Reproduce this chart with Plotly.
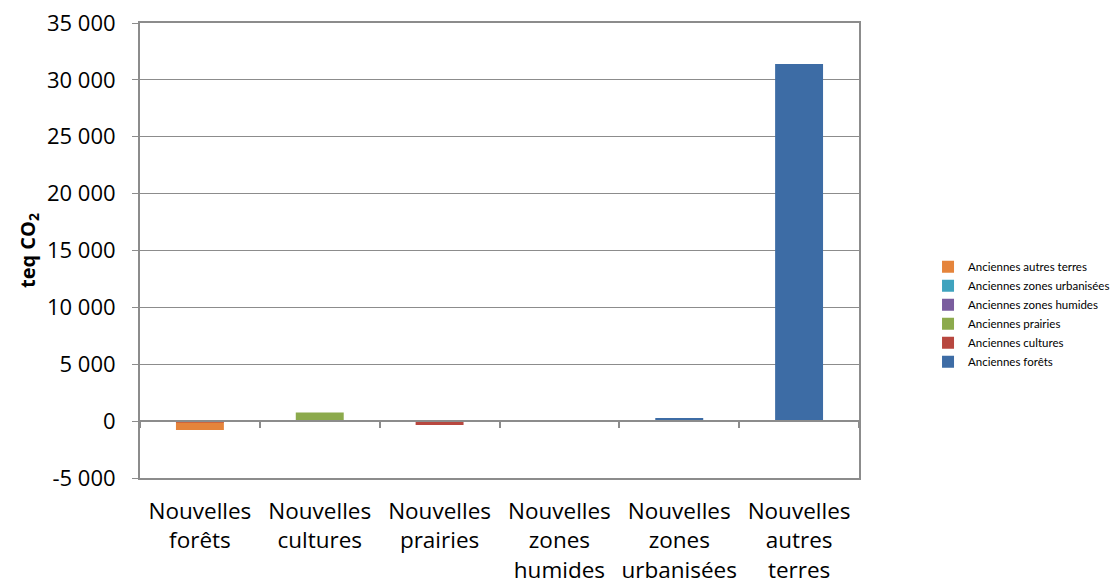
import plotly.graph_objects as go

categories = ["Nouvelles<br>forêts", "Nouvelles<br>cultures", "Nouvelles<br>prairies",
              "Nouvelles<br>zones<br>humides", "Nouvelles<br>zones<br>urbanisées",
              "Nouvelles<br>autres<br>terres"]

anciennes_forets = [0, 100, 0, 0, 280, 31400]
anciennes_cultures = [-120, 0, -350, 0, 0, 0]
anciennes_prairies = [0, 650, 0, 0, 0, 0]
anciennes_zones_humides = [0, 0, 0, 0, 0, 0]
anciennes_zones_urbanisees = [0, 0, 0, 0, 0, 0]
anciennes_autres_terres = [-650, 0, 0, 0, 0, 0]

series = [
    ("Anciennes forêts", anciennes_forets, "#3D6CA5"),
    ("Anciennes cultures", anciennes_cultures, "#B8473F"),
    ("Anciennes prairies", anciennes_prairies, "#8CAA4C"),
    ("Anciennes zones humides", anciennes_zones_humides, "#7A5D9E"),
    ("Anciennes zones urbanisées", anciennes_zones_urbanisees, "#3FA3BE"),
    ("Anciennes autres terres", anciennes_autres_terres, "#E5843B"),
]

y_ticks = [-5000, 0, 5000, 10000, 15000, 20000, 25000, 30000, 35000]
y_ticktext = ["-5 000", "0", "5 000", "10 000", "15 000", "20 000", "25 000", "30 000", "35 000"]

FONT = "'Open Sans', sans-serif"
GRAY = "#8C8C8C"

fig = go.Figure()
for name, vals, col in series:
    fig.add_trace(go.Bar(x=categories, y=vals, name=name, marker_color=col,
                         marker_line_width=0, width=0.4))

# invisible trace for the zero-crossing category axis
fig.add_trace(go.Scatter(x=categories, y=[0]*len(categories), xaxis="x2",
                         mode="markers", marker_opacity=0, showlegend=False,
                         hoverinfo="skip"))

fig.update_layout(
    barmode="relative",
    width=1113, height=588,
    margin=dict(l=140, r=254, t=23, b=110, autoexpand=False),
    paper_bgcolor="white", plot_bgcolor="white",
    font=dict(family=FONT, size=21, color="#000000"),
    xaxis=dict(showgrid=False, showline=True, mirror=True, linecolor=GRAY, linewidth=2,
               ticks="", tickfont=dict(size=22.5), ticklabelstandoff=12,
               zeroline=False, range=[-0.5, 5.5]),
    xaxis2=dict(overlaying="x", anchor="free", position=0.125, side="bottom",
                showline=True, linecolor=GRAY, linewidth=2,
                ticks="outside", ticklen=6, tickwidth=2, tickcolor=GRAY,
                tickson="boundaries", showticklabels=False, showgrid=False,
                range=[-0.5, 5.5], categoryorder="array", categoryarray=categories),
    yaxis=dict(range=[-5000, 35000], tickvals=y_ticks, ticktext=y_ticktext,
               showgrid=True, gridcolor=GRAY, gridwidth=1,
               showline=True, linecolor=GRAY, linewidth=2, mirror=True,
               ticks="outside", ticklen=6, tickcolor=GRAY, tickwidth=1,
               zeroline=False, tickfont=dict(size=22), ticklabelstandoff=12,
               title=dict(text="<b>teq CO<sub>2</sub></b>", font=dict(size=20), standoff=6)),
    legend=dict(x=1.096, xanchor="left", y=0.36, yanchor="middle",
                traceorder="reversed", font=dict(family="Lato, sans-serif", size=11.5),
                tracegroupgap=0, itemwidth=30),
    bargap=0.6,
)

fig.write_html("out.html")
